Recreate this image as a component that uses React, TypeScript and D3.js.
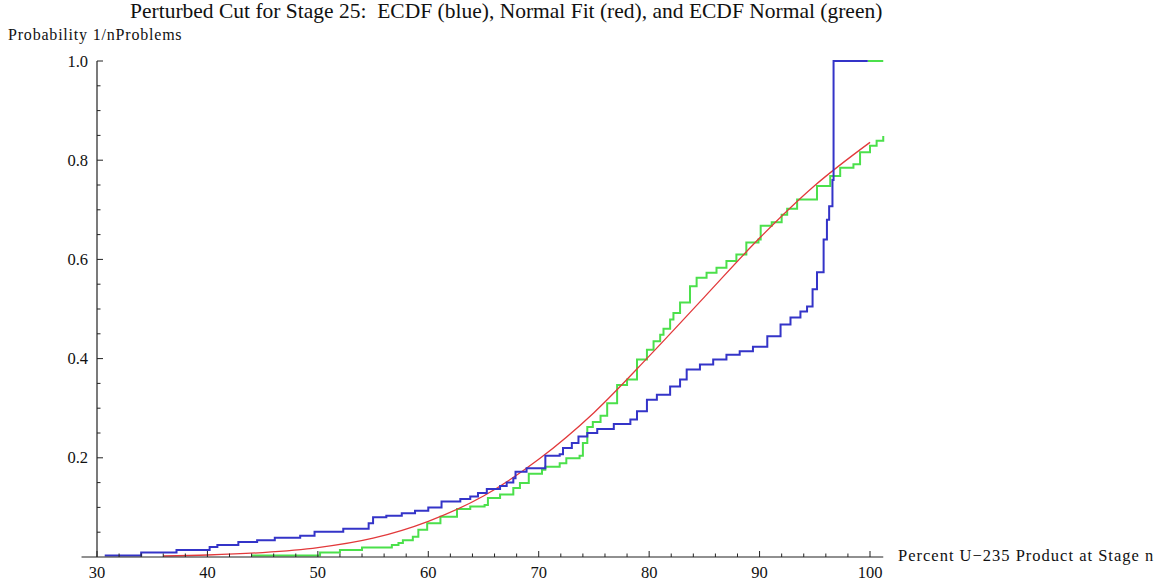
import { useMemo } from 'react';
import * as d3 from 'd3';

// ECDF of the perturbed cut (blue): jump locations and heights after each jump
const blueX = [30.7, 34.0, 37.2, 40.2, 40.9, 42.8, 44.5, 46.1, 48.4, 49.7, 52.3, 54.6, 55.0, 56.2, 57.6, 58.8, 60.0, 61.2, 62.9, 63.8, 64.5, 65.3, 66.5, 67.1, 67.7, 67.9, 68.9, 70.6, 71.9, 72.2, 73.0, 73.6, 74.4, 75.3, 76.8, 78.3, 78.9, 79.8, 80.7, 81.9, 82.8, 83.4, 84.6, 85.8, 87.0, 88.2, 89.4, 90.7, 91.9, 92.8, 93.7, 94.3, 94.8, 95.2, 95.8, 96.1, 96.3, 96.6, 96.7, 99.8];
const blueY = [0.003, 0.009, 0.014, 0.020, 0.024, 0.030, 0.034, 0.039, 0.043, 0.051, 0.057, 0.068, 0.080, 0.083, 0.088, 0.093, 0.100, 0.112, 0.117, 0.122, 0.129, 0.137, 0.143, 0.150, 0.159, 0.172, 0.179, 0.204, 0.207, 0.220, 0.230, 0.243, 0.250, 0.258, 0.268, 0.277, 0.294, 0.317, 0.327, 0.344, 0.358, 0.378, 0.388, 0.398, 0.408, 0.415, 0.424, 0.445, 0.469, 0.483, 0.495, 0.505, 0.540, 0.574, 0.640, 0.680, 0.707, 0.760, 1.0, 1.0];

// normal fit (red), read at regular x positions
const redX = [36, 40, 45, 50, 55, 60, 65, 70, 75, 80, 85, 90, 95, 100];
const redY = [0.002, 0.004, 0.009, 0.019, 0.038, 0.072, 0.123, 0.197, 0.291, 0.405, 0.524, 0.643, 0.749, 0.836];

// ECDF normal (green)
const greenX = [44.0, 50.2, 52.0, 54.0, 56.7, 57.3, 57.7, 58.6, 59.1, 59.9, 61.1, 62.6, 63.8, 65.1, 65.4, 66.5, 67.7, 68.3, 69.1, 70.3, 70.6, 71.9, 72.5, 73.7, 74.0, 74.4, 74.9, 75.6, 76.2, 77.1, 78.0, 78.9, 79.8, 80.4, 81.0, 81.3, 81.9, 82.2, 82.8, 83.7, 84.3, 85.2, 86.1, 87.0, 87.9, 88.8, 89.9, 90.1, 91.1, 92.0, 92.5, 93.4, 95.2, 96.4, 97.3, 98.5, 99.1, 100.0, 100.6, 101.2];
const greenY = [0.003, 0.009, 0.014, 0.019, 0.024, 0.028, 0.034, 0.041, 0.055, 0.068, 0.081, 0.097, 0.102, 0.105, 0.119, 0.126, 0.139, 0.149, 0.168, 0.176, 0.182, 0.189, 0.199, 0.204, 0.230, 0.262, 0.272, 0.285, 0.310, 0.347, 0.358, 0.398, 0.418, 0.435, 0.448, 0.460, 0.479, 0.492, 0.513, 0.546, 0.563, 0.573, 0.583, 0.597, 0.610, 0.634, 0.640, 0.668, 0.675, 0.690, 0.702, 0.721, 0.748, 0.768, 0.785, 0.792, 0.816, 0.829, 0.839, 0.849];
const greenTopX = [99.8, 101.2];
const greenTopY = [1.0, 1.0];

const xMajor = [30, 40, 50, 60, 70, 80, 90, 100];
const yMajor = [0.2, 0.4, 0.6, 0.8, 1.0];

const title = 'Perturbed Cut for Stage 25:  ECDF (blue), Normal Fit (red), and ECDF Normal (green)';
const yLabel = 'Probability 1/nProblems';
const xLabel = 'Percent U\u2212235 Product at Stage n';

const W = 1162;
const H = 585;
const FONT = '"Liberation Serif", "Times New Roman", serif';

export default function App() {
    const x = d3.scaleLinear().domain([30, 100]).range([97, 870]);
    const y = d3.scaleLinear().domain([0, 1]).range([557, 61]);

    const zip = (xs: number[], ys: number[]) => xs.map((v, i) => [v, ys[i]] as [number, number]);

    const paths = useMemo(() => {
        const step = d3.line<[number, number]>().x(d => x(d[0])).y(d => y(d[1])).curve(d3.curveStepAfter);
        const smooth = d3.line<[number, number]>().x(d => x(d[0])).y(d => y(d[1])).curve(d3.curveMonotoneX);
        return {
            blue: step(zip(blueX, blueY)) || '',
            red: smooth(zip(redX, redY)) || '',
            green: step(zip(greenX, greenY)) || '',
            greenTop: step(zip(greenTopX, greenTopY)) || '',
        };
    }, []);

    const xMinor = d3.range(30, 101, 2).filter(v => v % 10 !== 0);
    const yMinor = d3.range(1, 21).map(i => i * 0.05).filter(v => Math.abs(v * 5 - Math.round(v * 5)) > 1e-6);

    const axisY = y(0);
    const axisX = x(30);

    return (
        <div style={{ position: 'absolute', left: 0, top: 0 }}>
            <svg width={W} height={H} style={{ display: 'block', background: '#fff' }} fontFamily={FONT}>
                <text x={130} y={18} fontSize={21.5} fill="#111" style={{ whiteSpace: 'pre' }}>{title}</text>
                <text x={8} y={40} fontSize={16} letterSpacing={0.8} fill="#111">{yLabel}</text>

                {/* data */}
                <path d={paths.green} fill="none" stroke="#4be04b" strokeWidth={2} />
                <path d={paths.greenTop} fill="none" stroke="#4be04b" strokeWidth={2} />
                <path d={paths.red} fill="none" stroke="#e2393b" strokeWidth={1.3} />
                <path d={paths.blue} fill="none" stroke="#3434c8" strokeWidth={2} />

                {/* x axis */}
                <line x1={x(28.6)} x2={x(101.2)} y1={axisY} y2={axisY} stroke="#222" strokeWidth={1.2} />
                {xMajor.map(v => (
                    <g key={'xM' + v}>
                        <line x1={x(v)} x2={x(v)} y1={axisY} y2={axisY - 6} stroke="#222" strokeWidth={1} />
                        <text x={x(v)} y={578} fontSize={16.5} textAnchor="middle" fill="#111">{v}</text>
                    </g>
                ))}
                {xMinor.map(v => (
                    <line key={'xm' + v} x1={x(v)} x2={x(v)} y1={axisY} y2={axisY - 3.5} stroke="#222" strokeWidth={1} />
                ))}
                <text x={898} y={561} fontSize={16.5} letterSpacing={1} fill="#111">{xLabel}</text>

                {/* y axis */}
                <line x1={axisX} x2={axisX} y1={y(0)} y2={y(1)} stroke="#222" strokeWidth={1.2} />
                {yMajor.map(v => (
                    <g key={'yM' + v}>
                        <line x1={axisX} x2={axisX + 6} y1={y(v)} y2={y(v)} stroke="#222" strokeWidth={1} />
                        <text x={88} y={y(v) + 5.5} fontSize={16.5} textAnchor="end" fill="#111">{v.toFixed(1)}</text>
                    </g>
                ))}
                {yMinor.map(v => (
                    <line key={'ym' + v} x1={axisX} x2={axisX + 3.5} y1={y(v)} y2={y(v)} stroke="#222" strokeWidth={1} />
                ))}
            </svg>
        </div>
    );
}
